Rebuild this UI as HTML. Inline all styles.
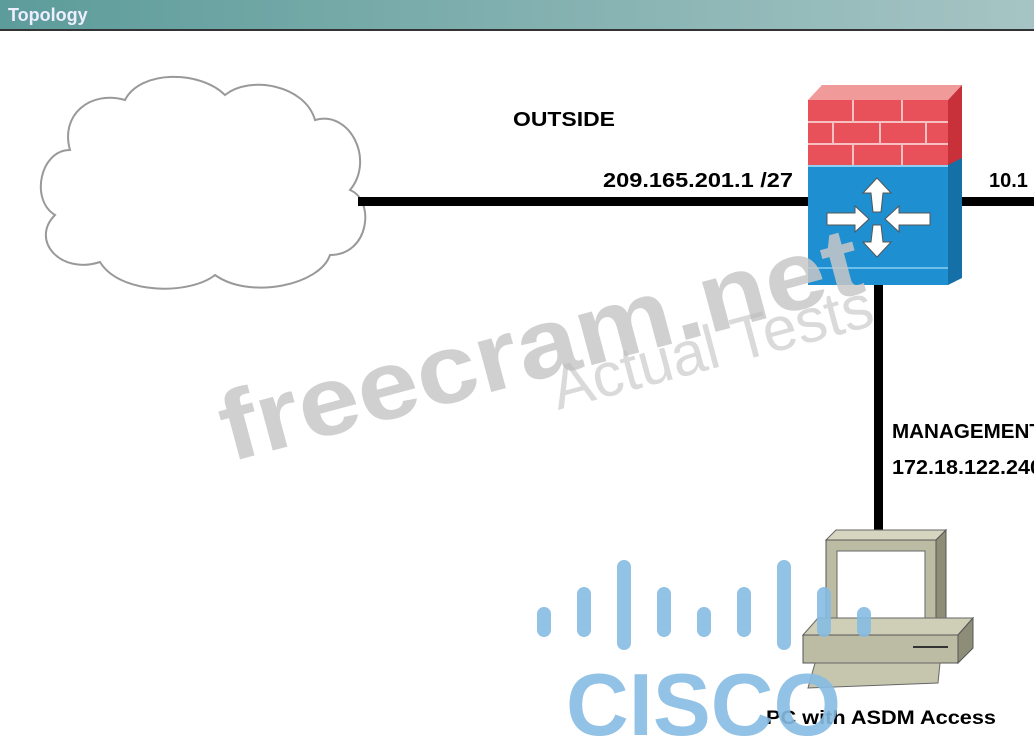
<!DOCTYPE html>
<html><head><meta charset="utf-8"><style>
html,body{margin:0;padding:0;background:#fff;width:1034px;height:739px;overflow:hidden}
</style></head><body>
<svg width="1034" height="739" viewBox="0 0 1034 739" xmlns="http://www.w3.org/2000/svg" font-family="Liberation Sans, sans-serif">
<defs>
<linearGradient id="hd" x1="0" x2="1"><stop offset="0" stop-color="#5c9c9a"/><stop offset="1" stop-color="#a6c4c4"/></linearGradient>
</defs>
<rect x="0" y="0" width="1034" height="29" fill="url(#hd)"/>
<rect x="0" y="29" width="1034" height="2" fill="#333"/>
<text x="8" y="21" font-size="18" font-weight="bold" fill="#eef" >Topology</text>

<!-- cloud -->
<path d="M70,150 C40,150 30,200 55,215 C30,240 60,275 100,262 C120,295 190,295 215,275 C250,300 320,285 330,255 C370,255 375,200 350,190 C375,160 350,110 315,120 C305,85 250,75 225,95 C200,70 140,70 125,100 C90,90 60,115 70,150 Z" fill="#fff" stroke="#999" stroke-width="2"/>

<!-- links -->
<rect x="358" y="197" width="452" height="9" fill="#000"/>
<rect x="960" y="197" width="74" height="9" fill="#000"/>
<rect x="874" y="283" width="9" height="250" fill="#000"/>

<!-- firewall -->
<polygon points="808,100 822,85 962,85 948,100" fill="#f19a9a"/>
<rect x="808" y="100" width="140" height="65" fill="#e8505a"/>
<polygon points="948,100 962,85 962,160 948,168" fill="#c8303a"/>
<g stroke="#f8c0c0" stroke-width="2">
<line x1="808" y1="122" x2="948" y2="122"/><line x1="808" y1="144" x2="948" y2="144"/>
<line x1="853" y1="100" x2="853" y2="122"/><line x1="902" y1="100" x2="902" y2="122"/>
<line x1="833" y1="122" x2="833" y2="144"/><line x1="880" y1="122" x2="880" y2="144"/><line x1="926" y1="122" x2="926" y2="144"/>
<line x1="853" y1="144" x2="853" y2="165"/><line x1="902" y1="144" x2="902" y2="165"/>
</g>
<rect x="808" y="165" width="140" height="120" fill="#1e8fd0"/>
<polygon points="948,165 962,158 962,278 948,285" fill="#1570a8"/>
<line x1="808" y1="268" x2="948" y2="268" stroke="#6cc0ea" stroke-width="2"/>
<line x1="808" y1="166" x2="948" y2="166" stroke="#8fd0f0" stroke-width="2"/>
<g fill="#fff" stroke="#555" stroke-width="1">
<polygon points="877,178 863,193 871,193 873,212 881,212 883,193 891,193"/>
<polygon points="877,257 863,242 871,242 873,225 881,225 883,242 891,242"/>
<polygon points="869,219 855,206 855,213 827,213 827,225 855,225 855,232"/>
<polygon points="885,219 899,206 899,213 930,213 930,225 899,225 899,232"/>
</g>

<!-- PC -->
<polygon points="826,540 836,530 946,530 936,540" fill="#d6d6c0" stroke="#666"/>
<rect x="826" y="540" width="110" height="90" fill="#bcbca4" stroke="#555"/>
<polygon points="936,540 946,530 946,620 936,630" fill="#8e8e78" stroke="#555"/>
<rect x="837" y="551" width="88" height="70" fill="#fff" stroke="#666"/>
<polygon points="803,635 818,618 973,618 958,635" fill="#cfcfb8" stroke="#666"/>
<rect x="803" y="635" width="155" height="28" fill="#bcbca4" stroke="#555"/>
<polygon points="958,635 973,618 973,648 958,663" fill="#8e8e78" stroke="#555"/>
<line x1="913" y1="647" x2="948" y2="647" stroke="#333" stroke-width="2"/>
<polygon points="815,663 940,663 938,683 808,688" fill="#c6c6ae" stroke="#666"/>

<!-- labels -->
<g font-weight="bold" fill="#000" font-size="20">
<text x="513" y="126" textLength="102" lengthAdjust="spacingAndGlyphs">OUTSIDE</text>
<text x="603" y="187" textLength="190" lengthAdjust="spacingAndGlyphs">209.165.201.1 /27</text>
<text x="989" y="187">10.1</text>
<text x="892" y="438" textLength="150" lengthAdjust="spacingAndGlyphs">MANAGEMENT</text>
<text x="892" y="474" textLength="150" lengthAdjust="spacingAndGlyphs">172.18.122.240</text>
<text x="766" y="724" font-size="19" textLength="230" lengthAdjust="spacingAndGlyphs">PC with ASDM Access</text>
</g>

<!-- watermarks -->
<text x="0" y="0" font-size="98" font-weight="bold" fill="#c8c8c8" fill-opacity="0.85" transform="translate(230,462) rotate(-15)" textLength="660" lengthAdjust="spacingAndGlyphs">freecram.net</text>
<text x="0" y="0" font-size="62" fill="#bbbbbb" fill-opacity="0.55" transform="translate(558,410) rotate(-15)" textLength="330" lengthAdjust="spacingAndGlyphs">Actual Tests</text>

<!-- cisco logo -->
<g fill="#86bbe2" fill-opacity="0.9">
<rect x="537" y="607" width="14" height="30" rx="7"/>
<rect x="577" y="587" width="14" height="50" rx="7"/>
<rect x="617" y="560" width="14" height="90" rx="7"/>
<rect x="657" y="587" width="14" height="50" rx="7"/>
<rect x="697" y="607" width="14" height="30" rx="7"/>
<rect x="737" y="587" width="14" height="50" rx="7"/>
<rect x="777" y="560" width="14" height="90" rx="7"/>
<rect x="817" y="587" width="14" height="50" rx="7"/>
<rect x="857" y="607" width="14" height="30" rx="7"/>
<text x="566" y="735" font-size="88" font-weight="bold" textLength="275" lengthAdjust="spacingAndGlyphs">CISCO</text>
</g>
</svg>
</body></html>
